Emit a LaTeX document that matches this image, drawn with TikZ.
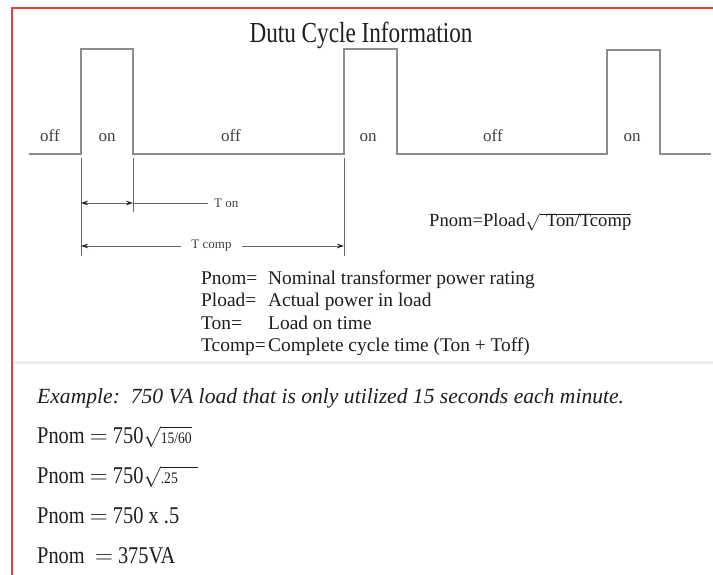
\documentclass[tikz,border=0pt]{standalone}
\usepackage{fontspec}
\setmainfont{Liberation Serif}
\newfontfamily\titlefont[FakeStretch=0.8]{Liberation Serif}
\newfontfamily\condfont[FakeStretch=0.85]{Liberation Serif}
\usetikzlibrary{arrows.meta}
\definecolor{frame}{RGB}{232,64,58}
\definecolor{waveclr}{RGB}{145,139,135}
\definecolor{dimclr}{RGB}{105,101,99}
\definecolor{ink}{RGB}{30,30,30}
\tikzset{
  wave/.style={draw=waveclr,line width=1.3pt,line join=miter},
  dimline/.style={draw=dimclr,line width=0.8pt},
  dimboth/.style={dimline,{Stealth[length=7pt,width=4.5pt,color=ink]}-{Stealth[length=7pt,width=4.5pt,color=ink]}},
  dimleft/.style={dimline,{Stealth[length=7pt,width=4.5pt,color=ink]}-},
  dimright/.style={dimline,-{Stealth[length=7pt,width=4.5pt,color=ink]}},
  statelbl/.style={inner sep=0pt,anchor=base,font=\fontsize{17}{17}\selectfont,text=ink!85},
  dimlbl/.style={inner sep=0pt,font=\fontsize{13}{13}\selectfont,text=ink!85},
  legend/.style={inner sep=0pt,anchor=base west,font=\fontsize{19.4}{19.4}\selectfont,text=ink},
  example/.style={inner sep=0pt,anchor=base west,font=\condfont\fontsize{24}{24}\selectfont,text=ink},
}
\newcommand{\smallroot}[1]{\smash{{\fontsize{21}{21}\selectfont$\sqrt{\mbox{\fontsize{16}{16}\selectfont #1}}$}}}
\begin{document}
\begin{tikzpicture}[x=1pt,y=-1pt]
\useasboundingbox (0,0) rectangle (713,575);
\fill[white] (0,0) rectangle (713,575);
% faint edge of the scanned area
\draw[black!7,line width=3pt] (14,362) -- (713,362);
% frame
\draw[frame,line width=2.5pt] (12,575) -- (12,8) -- (713,8);
% title
\node[inner sep=0pt,anchor=base,font=\titlefont\fontsize{29}{29}\selectfont,text=ink] (title) at (361,43) {Dutu Cycle Information};
% waveform
\coordinate (w0) at (29,154);
\coordinate (r1) at (81,154);
\coordinate (h1a) at (81,49);
\coordinate (h1b) at (133,49);
\coordinate (f1) at (133,154);
\coordinate (r2) at (344,154);
\coordinate (h2a) at (344,49);
\coordinate (h2b) at (397,49);
\coordinate (f2) at (397,154);
\coordinate (r3) at (607,154);
\coordinate (h3a) at (607,50);
\coordinate (h3b) at (660,50);
\coordinate (f3) at (660,154);
\coordinate (wend) at (711,154);
\draw[wave] (w0) -- (r1) -- (h1a) -- (h1b) -- (f1) -- (r2) -- (h2a) -- (h2b) -- (f2) -- (r3) -- (h3a) -- (h3b) -- (f3) -- (wend);
% state labels
\node[statelbl] (s1) at (50,142) {off};
\node[statelbl] (s2) at (107,142) {on};
\node[statelbl] (s3) at (231,142) {off};
\node[statelbl] (s4) at (368,142) {on};
\node[statelbl] (s5) at (493,142) {off};
\node[statelbl] (s6) at (632,142) {on};
% extension lines
\coordinate (e1t) at (81,158);  \coordinate (e1b) at (81,256);
\coordinate (e2t) at (133,158); \coordinate (e2b) at (133,212);
\coordinate (e3t) at (344,158); \coordinate (e3b) at (344,256);
\draw[dimline] (e1t) -- (e1b);
\draw[dimline] (e2t) -- (e2b);
\draw[dimline] (e3t) -- (e3b);
% T on
\coordinate (ton1) at (81,203);
\coordinate (ton2) at (133,203);
\node[dimlbl,anchor=west] (tonlbl) at (214,203) {T on};
\draw[dimboth] (ton1) -- (ton2);
\draw[dimline] (ton2) -- ([xshift=-6pt]tonlbl.west);
% T comp
\coordinate (tc1) at (81,246);
\coordinate (tc2) at (344,246);
\node[dimlbl] (tclbl) at (211.5,246) {T comp};
\draw[dimleft] (tc1) -- ([xshift=-10pt]tclbl.west);
\draw[dimright] ([xshift=10pt]tclbl.east) -- (tc2);
% formula
\node[legend,font=\fontsize{18.6}{18.6}\selectfont] (formula) at (429,227) {Pnom=Pload$\sqrt{\mbox{\,\,Ton/Tcomp}}$};
% legend
\node[legend] (k1) at (201,284) {Pnom=};
\node[legend] (v1) at (268,284) {Nominal transformer power rating};
\node[legend] (k2) at (201,306.5) {Pload=};
\node[legend] (v2) at (268,306.5) {Actual power in load};
\node[legend] (k3) at (201,329) {Ton=};
\node[legend] (v3) at (268,329) {Load on time};
\node[legend] (k4) at (201,351.5) {Tcomp=};
\node[legend] (v4) at (268,351.5) {Complete cycle time (Ton + Toff)};
% example
\node[inner sep=0pt,anchor=base west,font=\itshape\fontsize{21.6}{21.6}\selectfont,text=ink] (ex) at (37,403) {Example:\ \ 750 VA load that is only utilized 15 seconds each minute.};
\node[example] (p1) at (37,443) {Pnom $=$ 750\smallroot{15/60}};
\node[example] (p2) at (37,483) {Pnom $=$ 750\smallroot{.25\hspace{20pt}}};
\node[example] (p3) at (37,523) {Pnom $=$ 750 x .5};
\node[example] (p4) at (37,563) {Pnom\ \ $=$ 375VA};
\end{tikzpicture}
\end{document}
